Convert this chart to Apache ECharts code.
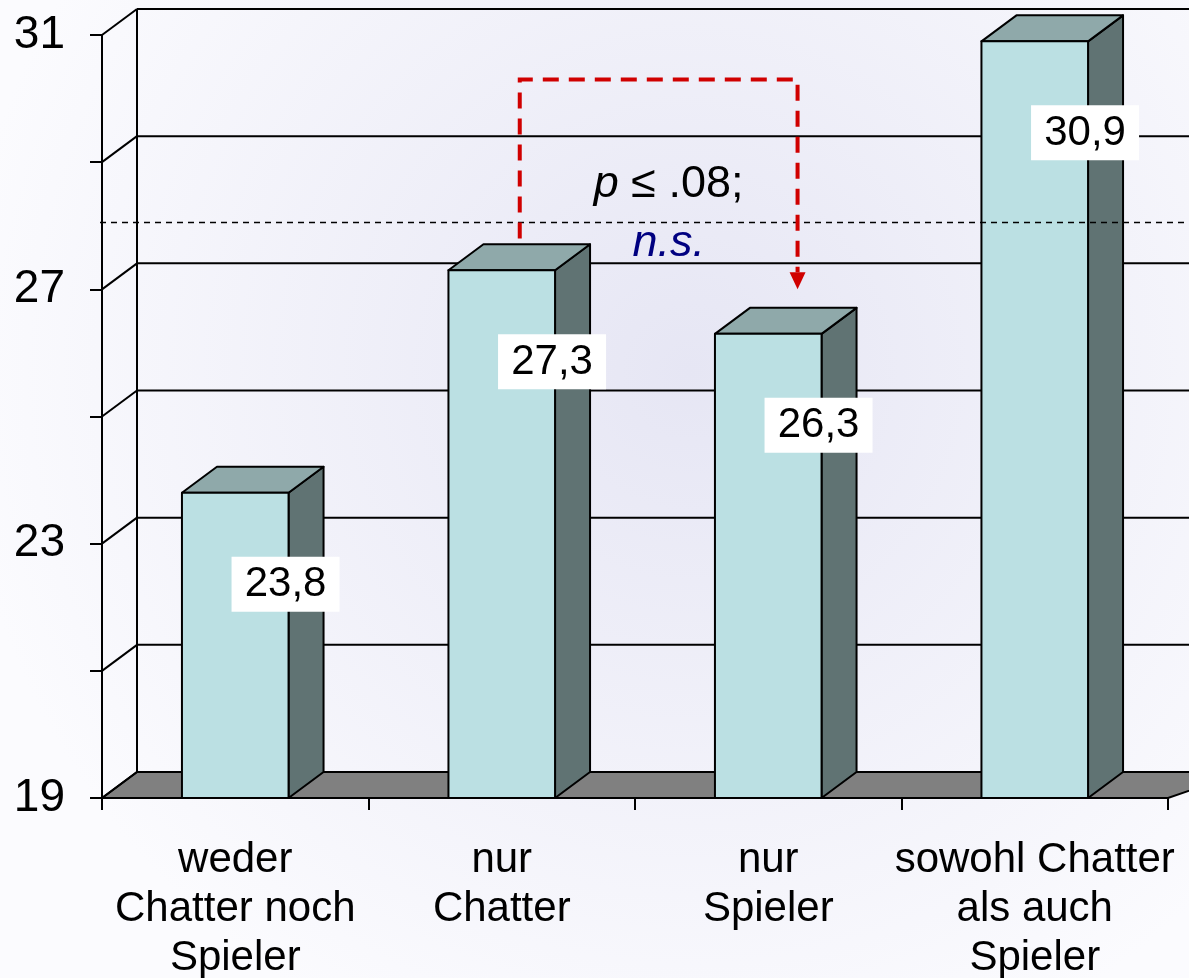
<!DOCTYPE html>
<html lang="de">
<head>
<meta charset="UTF-8">
<title>Chatter / Spieler</title>
<script src="https://cdn.jsdelivr.net/npm/echarts@6.0.0/dist/echarts.min.js"></script>
<style>
    html, body { margin: 0; padding: 0; background: #fafafd; }
    #chart { width: 1189px; height: 978px; }
</style>
</head>
<body>
<div id="chart"></div>
<script>
// Daten
var categories = ['weder\nChatter noch\nSpieler', 'nur\nChatter', 'nur\nSpieler', 'sowohl Chatter\nals auch\nSpieler'];
var values = [23.8, 27.3, 26.3, 30.9];
var valueLabels = ['23,8', '27,3', '26,3', '30,9'];
var yTicks = [19, 21, 23, 25, 27, 29, 31];
var yLabelTicks = [19, 23, 27, 31];
var refLine = 28.05;
var bracketCats = [1, 2];
var bracketLevels = [27.8, 30.3, 27.0]; // start, top, arrow tip

var FONT = '"Liberation Sans", Arial, sans-serif';
var DX = 35, DY = -26; // depth of the 3d look

var chart = echarts.init(document.getElementById('chart'));

// back wall, floor and grid lines
function renderFrame(params, api) {
    var cs = params.coordSys;
    var left = cs.x, right = cs.x + cs.width, bottom = cs.y + cs.height;
    var kids = [];
    kids.push({
        type: 'polygon',
        shape: { points: [[left, bottom], [left + DX, bottom + DY], [right + DX + 40, bottom + DY], [right, bottom]] },
        style: { fill: '#808080', stroke: '#000', lineWidth: 2 }
    });
    yTicks.forEach(function (t) {
        var y = api.coord([0, t])[1];
        kids.push({ type: 'line', shape: { x1: left, y1: y, x2: left + DX, y2: y + DY }, style: { stroke: '#000', lineWidth: 2 } });
        if (t !== yTicks[0]) {
            kids.push({ type: 'line', shape: { x1: left + DX, y1: y + DY, x2: api.getWidth(), y2: y + DY }, style: { stroke: '#000', lineWidth: 2 } });
        }
    });
    var yTop = api.coord([0, yTicks[yTicks.length - 1]])[1];
    kids.push({ type: 'line', shape: { x1: left + DX, y1: yTop + DY, x2: left + DX, y2: bottom + DY }, style: { stroke: '#000', lineWidth: 2 } });
    return { type: 'group', children: kids };
}

// 3d bars with value boxes
function renderBar(params, api) {
    var i = api.value(0);
    var top = api.coord([i, api.value(1)]);
    var base = api.coord([i, yTicks[0]]);
    var bw = api.size([1, 0])[0] * 0.4;
    var x0 = top[0] - bw / 2, x1 = top[0] + bw / 2, yt = top[1], yb = base[1];
    var line = { stroke: '#000', lineWidth: 2, lineJoin: 'round' };
    return {
        type: 'group',
        children: [
            { type: 'polygon', shape: { points: [[x1, yt], [x1 + DX, yt + DY], [x1 + DX, yb + DY], [x1, yb]] },
              style: Object.assign({ fill: '#607373' }, line) },
            { type: 'polygon', shape: { points: [[x0, yt], [x0 + DX, yt + DY], [x1 + DX, yt + DY], [x1, yt]] },
              style: Object.assign({ fill: '#8fa9aa' }, line) },
            { type: 'rect', shape: { x: x0, y: yt, width: bw, height: yb - yt },
              style: Object.assign({ fill: '#bbe0e3' }, line) },
            { type: 'rect', shape: { x: x1 - 3 - 54, y: yt + 91 - 27, width: 108, height: 55 },
              style: { fill: '#fff' } },
            { type: 'text', style: { text: valueLabels[params.dataIndex], x: x1 - 3, y: yt + 92,
              align: 'center', verticalAlign: 'middle', fontSize: 42, fontFamily: FONT, fill: '#000' } }
        ]
    };
}

// reference line, significance bracket, texts
function renderNotes(params, api) {
    var cs = params.coordSys;
    var bandW = api.size([1, 0])[0];
    var yRef = api.coord([0, refLine])[1];
    var lx = api.coord([bracketCats[0], 0])[0] + 18;
    var rx = api.coord([bracketCats[1], 0])[0] + bandW * 0.11;
    var yStart = api.coord([0, bracketLevels[0]])[1];
    var yTop = api.coord([0, bracketLevels[1]])[1];
    var yTip = api.coord([0, bracketLevels[2]])[1];
    var mid = (lx + rx) / 2 + 10;
    return {
        type: 'group',
        children: [
            { type: 'line', shape: { x1: cs.x - 2, y1: yRef, x2: api.getWidth(), y2: yRef },
              style: { stroke: '#000', lineWidth: 1.5, lineDash: [6, 5] } },
            { type: 'polyline', shape: { points: [[lx, yStart], [lx, yTop], [rx, yTop], [rx, yTip - 17]] },
              style: { stroke: '#d00000', lineWidth: 4, lineDash: [16, 10], fill: null } },
            { type: 'polygon', shape: { points: [[rx - 8, yTip - 17], [rx + 8, yTip - 17], [rx, yTip]] },
              style: { fill: '#d00000' } },
            { type: 'text', style: { text: '{p|p} ≤ .08;', x: mid, y: yRef - 38, align: 'center', verticalAlign: 'middle',
              fontSize: 45, fontFamily: FONT, fill: '#000',
              rich: { p: { fontStyle: 'italic', fontSize: 45, fontFamily: FONT, fill: '#000' } } } },
            { type: 'text', style: { text: 'n.s.', x: mid, y: yRef + 21, align: 'center', verticalAlign: 'middle',
              fontSize: 45, fontStyle: 'italic', fontFamily: FONT, fill: '#000080' } }
        ]
    };
}

chart.setOption({
    animation: false,
    graphic: [{
        type: 'rect', z: -10, silent: true,
        shape: { x: 0, y: 0, width: 1189, height: 978 },
        style: { fill: { type: 'radial', x: 0.58, y: 0.38, r: 0.75,
            colorStops: [{ offset: 0, color: '#e6e6f4' }, { offset: 1, color: '#fbfbfe' }] } }
    }],
    grid: { left: 102, right: 21, top: 35, bottom: 180, outerBoundsMode: 'none', containLabel: false },
    xAxis: {
        type: 'category',
        data: categories,
        axisLine: { show: true, lineStyle: { color: '#000', width: 2 } },
        axisTick: { show: true, length: 12, lineStyle: { color: '#000', width: 2 } },
        axisLabel: { color: '#000', fontSize: 42, fontFamily: FONT, lineHeight: 49, margin: 38, interval: 0 },
        splitLine: { show: false }
    },
    yAxis: {
        type: 'value',
        min: 19, max: 31, interval: 2,
        axisLine: { show: true, lineStyle: { color: '#000', width: 2 } },
        axisTick: { show: true, length: 12, lineStyle: { color: '#000', width: 2 } },
        axisLabel: {
            color: '#000', fontSize: 46, fontFamily: FONT, margin: 37,
            formatter: function (v) { return yLabelTicks.indexOf(v) >= 0 ? String(v) : ''; }
        },
        splitLine: { show: false }
    },
    series: [
        { type: 'custom', z: 1, silent: true, clip: false, renderItem: renderFrame, data: [[0, 19]] },
        { type: 'custom', z: 2, silent: true, clip: false, renderItem: renderBar,
          encode: { x: 0, y: 1 },
          data: values.map(function (v, i) { return [i, v]; }) },
        { type: 'custom', z: 3, silent: true, clip: false, renderItem: renderNotes, data: [[0, 19]] }
    ]
});
</script>
</body>
</html>
